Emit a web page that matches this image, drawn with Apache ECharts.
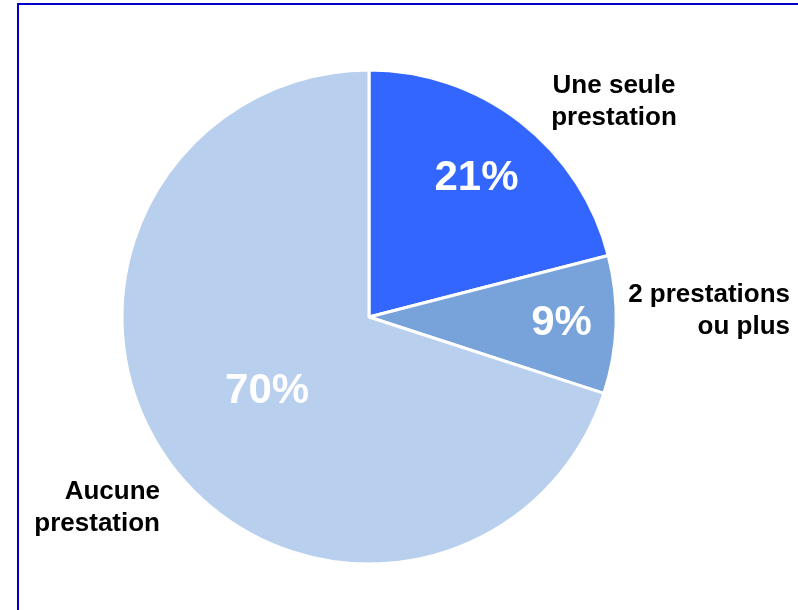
<!DOCTYPE html>
<html>
<head>
<meta charset="utf-8">
<script src="https://cdn.jsdelivr.net/npm/echarts@6/dist/echarts.min.js"></script>
<style>
  html, body { margin: 0; padding: 0; background: #fff; }
  #chart { width: 798px; height: 610px; }
</style>
</head>
<body>
<div id="chart"></div>
<script>
// données
const categories = ['Une seule prestation', '2 prestations ou plus', 'Aucune prestation'];
const nameLabels = ['Une seule\nprestation', '2 prestations\nou plus', 'Aucune\nprestation'];
const shares = [21, 9, 70];
const sliceColors = ['#3366ff', '#77a3da', '#b9cfee'];

// mise en page
const pieCenter = [369, 317];
const pieRadius = 247;
const pctRadiusFrac = [0.71, 0.78, 0.51];
const nameAnchors = [
    { x: 614, y: 102, align: 'center' },
    { x: 790, y: 311, align: 'right' },
    { x: 160, y: 508, align: 'right' }
];
const fontFamily = '"Liberation Sans", Arial, sans-serif';

const total = shares.reduce((a, b) => a + b, 0);

// position des pourcentages à l'intérieur des parts
function pctLayout(params) {
    const i = params.dataIndex;
    let before = 0;
    for (let k = 0; k < i; k++) before += shares[k];
    const theta = (before + shares[i] / 2) / total * 2 * Math.PI;
    const r = pieRadius * pctRadiusFrac[i];
    return {
        x: pieCenter[0] + r * Math.sin(theta),
        y: pieCenter[1] - r * Math.cos(theta),
        align: 'center',
        verticalAlign: 'middle'
    };
}

function nameLayout(params) {
    const a = nameAnchors[params.dataIndex];
    return { x: a.x, y: a.y, align: a.align, verticalAlign: 'middle' };
}

const chart = echarts.init(document.getElementById('chart'), null, { renderer: 'canvas' });

chart.setOption({
    animation: false,
    backgroundColor: '#fff',
    graphic: [{
        type: 'rect',
        shape: { x: 18, y: 4, width: 820, height: 640 },
        style: { fill: 'none', stroke: '#0000c8', lineWidth: 2 },
        silent: true
    }],
    series: [
        {
            type: 'pie',
            center: pieCenter,
            radius: pieRadius,
            startAngle: 90,
            clockwise: true,
            avoidLabelOverlap: false,
            silent: true,
            itemStyle: { borderColor: '#fff', borderWidth: 3 },
            label: {
                show: true,
                position: 'inside',
                formatter: '{c}%',
                color: '#fff',
                fontSize: 42,
                fontWeight: 'bold',
                fontFamily: fontFamily
            },
            labelLine: { show: false },
            labelLayout: pctLayout,
            data: categories.map((c, i) => ({
                name: c,
                value: shares[i],
                itemStyle: { color: sliceColors[i] }
            }))
        },
        {
            type: 'pie',
            center: pieCenter,
            radius: pieRadius,
            startAngle: 90,
            clockwise: true,
            avoidLabelOverlap: false,
            silent: true,
            itemStyle: { color: 'rgba(0,0,0,0)', borderWidth: 0 },
            label: {
                show: true,
                position: 'outside',
                formatter: (p) => nameLabels[p.dataIndex],
                color: '#000',
                fontSize: 26,
                lineHeight: 32,
                fontWeight: 'bold',
                fontFamily: fontFamily
            },
            labelLine: { show: false },
            labelLayout: nameLayout,
            data: categories.map((c, i) => ({ name: c, value: shares[i] }))
        }
    ]
});
</script>
</body>
</html>
